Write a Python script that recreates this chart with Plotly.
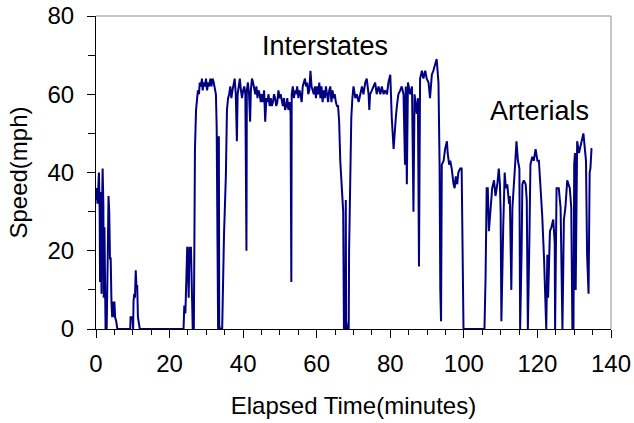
import plotly.graph_objects as go

# ---- Data (elapsed minutes, speed mph) ----
# Start of trip: urban streets, stop-and-go
start_time = [0.0, 0.2, 0.4, 0.6, 0.8, 1.0, 1.1, 1.2, 1.4, 1.5, 1.6, 1.8, 2.0, 2.1, 2.3, 2.5, 2.6, 2.9,
              3.0, 3.2, 3.4, 3.6, 3.8, 4.0, 4.2, 4.4, 4.6, 4.8, 5.0, 5.2, 5.5, 5.8,
              9.3, 9.4, 9.9, 10.1, 10.2, 10.4, 10.6, 10.8, 11.0, 11.2, 11.4, 11.7, 11.9,
              23.8, 24.0, 24.3, 24.5, 24.8, 25.0, 25.2, 25.4, 25.6, 25.8, 26.0, 26.2, 26.3, 26.6]
start_speed = [33, 36, 32, 38, 40, 30, 12, 35, 22, 9, 28, 41, 32, 8, 26, 10, 0, 0,
               17, 19, 34, 30, 18, 18, 7, 3, 7, 3, 7, 3, 2, 0,
               0, 3, 3, 0, 7, 9, 8, 15, 11, 11, 3, 1, 0,
               0, 6, 4, 10, 21, 16, 8, 21, 17, 21, 14, 10, 0, 0]

# Interstate portion
interstate_time = [26.7, 26.9, 27.2, 27.4, 27.7, 28.0, 28.2, 28.5, 28.8, 29.0, 29.3, 29.6, 29.9, 30.2,
                   30.5, 30.8, 31.1, 31.4, 31.7, 32.0, 32.3, 32.6, 32.8, 33.0, 33.2, 33.3, 33.4, 33.5,
                   33.7, 34.3, 34.5, 34.8, 35.3, 35.6, 35.9, 36.2, 36.5, 36.8, 37.1, 37.4, 37.7, 38.0,
                   38.3, 38.5, 38.8, 39.1, 39.4, 39.7, 40.0, 40.3, 40.6, 40.8, 40.9, 41.0, 41.3, 41.6,
                   41.9, 42.1, 42.4, 42.7, 43.0, 43.3, 43.6, 43.9, 44.2, 44.5, 44.8, 45.1, 45.4, 45.7,
                   46.0, 46.3, 46.6, 46.9, 47.2, 47.5, 47.8, 48.1, 48.4, 48.7, 49.0, 49.3, 49.6, 49.9,
                   50.2, 50.5, 50.8, 51.1, 51.4, 51.7, 52.0, 52.3, 52.6, 52.9, 53.0, 53.1, 53.2, 53.5,
                   53.8, 54.1, 54.4, 54.7, 55.0, 55.3, 55.6, 55.9, 56.2, 56.5, 56.8, 57.1, 57.4, 57.7,
                   58.0, 58.3, 58.6, 58.9, 59.2, 59.5, 59.8, 60.1, 60.4, 60.7, 61.0, 61.3, 61.6, 61.9,
                   62.2, 62.5, 62.8, 63.1, 63.4, 63.7, 64.0, 64.3, 64.6, 64.9, 65.2, 65.5, 65.8, 66.1,
                   66.4, 66.7, 67.0, 67.2, 67.4, 67.8, 67.9, 68.0, 68.3, 68.7, 68.8, 69.4, 69.7, 70.0,
                   70.5, 70.9, 71.4, 71.8, 72.3, 72.7, 73.2, 73.6, 74.1, 74.3, 74.5, 75.0, 75.4, 75.9,
                   76.3, 76.8, 77.3, 77.7, 78.2, 78.6, 79.1, 79.5, 80.0, 80.2, 80.4, 80.9, 81.1, 81.5,
                   81.8, 82.2, 82.7, 83.1, 83.6, 84.0, 84.2, 84.5, 84.8, 85.4, 85.9, 86.3, 86.6, 87.2,
                   87.5, 87.8, 88.1, 88.6, 89.0, 89.5, 89.9, 90.4, 90.8, 91.3, 91.7, 92.2, 92.6, 93.1,
                   93.4, 93.6, 93.8, 94.0, 94.5, 94.9, 95.4, 95.6, 96.0, 96.3, 96.7, 97.2, 97.5, 97.8,
                   98.2, 98.5, 99.0, 99.4, 99.6, 99.9]
interstate_speed = [37, 46, 56, 58, 61, 60, 63, 62, 64, 61, 63, 62, 64, 61,
                    63, 62, 64, 62, 64, 63, 61, 60, 52, 2, 0, 49, 49, 1,
                    0, 0, 16, 24, 39, 56, 59, 60, 62, 59, 61, 63, 64, 60,
                    48, 60, 62, 64, 61, 59, 61, 62, 60, 20, 20, 61, 63, 60,
                    53, 61, 64, 63, 61, 60, 62, 59, 61, 60, 58, 60, 58, 61,
                    53, 59, 58, 60, 57, 59, 57, 58, 60, 59, 57, 58, 61, 59,
                    60, 58, 57, 59, 56, 57, 59, 56, 58, 55, 12, 12, 60, 62,
                    59, 61, 60, 62, 59, 61, 60, 58, 62, 63, 64, 62, 63, 60,
                    61, 66, 62, 61, 60, 62, 59, 62, 60, 63, 59, 62, 58, 61,
                    59, 62, 60, 58, 61, 62, 58, 61, 59, 60, 58, 57, 57, 53,
                    43, 38, 34, 30, 0, 0, 33, 2, 0, 0, 20, 54, 59, 62,
                    59, 60, 58, 60, 62, 60, 63, 64, 60, 56, 60, 61, 62, 63,
                    60, 62, 60, 62, 60, 61, 60, 63, 65, 56, 54, 46, 50, 54,
                    57, 60, 61, 62, 60, 42, 62, 37, 63, 60, 62, 30, 60, 55,
                    59, 16, 64, 66, 64, 66, 64, 63, 59, 65, 66, 68, 69, 63,
                    42, 10, 2, 42, 43, 46, 48, 45, 42, 43, 41, 37, 36, 39,
                    37, 40, 41, 41, 20, 0]

# Arterial portion
arterial_time = [105.6, 105.9, 106.2, 106.5, 106.8, 107.3, 107.7, 108.2, 108.6, 109.1, 109.5, 109.8,
                 110.0, 110.2, 110.4, 110.7, 111.1, 111.4, 111.8, 112.3, 112.5, 112.9, 113.2, 113.6,
                 114.0, 114.3, 114.7, 115.1, 115.3, 115.7, 115.9, 116.3, 116.8, 117.1, 117.4, 117.8,
                 118.1, 118.6, 119.0, 119.5, 120.0, 120.4, 120.9, 121.3, 121.8, 122.0, 122.4, 122.7,
                 122.9, 123.4, 123.8, 124.3, 124.7, 124.8, 125.2, 125.8, 126.3, 126.8, 127.2, 127.6,
                 128.1, 128.8, 129.2, 129.5, 129.8, 130.0, 130.2, 130.4, 130.6, 130.8, 131.3, 131.9,
                 132.5, 132.8, 133.2, 133.5, 133.9, 134.2, 134.4, 134.7, 134.9]
arterial_speed = [0, 13, 36, 36, 25, 31, 36, 38, 34, 37, 41, 37,
                  30, 2, 13, 26, 40, 36, 37, 32, 34, 10, 31, 36,
                  43, 48, 43, 41, 0, 20, 37, 38, 37, 33, 0, 22,
                  42, 44, 43, 46, 43, 43, 36, 29, 18, 11, 0, 19,
                  8, 25, 26, 28, 22, 0, 36, 36, 31, 0, 28, 31,
                  38, 36, 31, 0, 0, 42, 45, 10, 44, 48, 45, 48,
                  50, 47, 43, 19, 9, 40, 41, 46, 46]

elapsed_min = start_time + interstate_time + arterial_time
speed_mph = start_speed + interstate_speed + arterial_speed

x_ticks = [0, 20, 40, 60, 80, 100, 120, 140]
y_ticks = [0, 20, 40, 60, 80]
labels = {"Interstates": (62.2, 72.3), "Arterials": (120.5, 55.8)}

FONT = "Arial, 'Liberation Sans', sans-serif"

fig = go.Figure()
fig.add_trace(go.Scatter(
    x=elapsed_min, y=speed_mph, mode="lines",
    line=dict(color="#000080", width=2),
    showlegend=False, hoverinfo="x+y",
))

for txt, (tx, ty) in labels.items():
    fig.add_annotation(x=tx, y=ty, xref="x", yref="y", text=txt, showarrow=False,
                       font=dict(family=FONT, size=27, color="black"),
                       xanchor="center", yanchor="middle")

# Grey plot-area border on top and right (Excel style)
fig.add_shape(type="line", xref="paper", yref="paper", x0=0, x1=1, y0=1, y1=1,
              line=dict(color="#8c8c8c", width=1))
fig.add_shape(type="line", xref="paper", yref="paper", x0=1, x1=1, y0=0, y1=1,
              line=dict(color="#8c8c8c", width=1))

fig.update_layout(
    width=634, height=423,
    margin=dict(l=96, r=23, t=16, b=94, autoexpand=False),
    paper_bgcolor="white", plot_bgcolor="white",
    font=dict(family=FONT, size=24, color="black"),
    xaxis=dict(
        range=[0, 140], tickvals=x_ticks, ticktext=[str(v) for v in x_ticks],
        showgrid=False, zeroline=False, showline=True, linecolor="black", linewidth=1,
        ticks="outside", ticklen=8, tickwidth=1, tickcolor="black",
        minor=dict(dtick=5, ticks="outside", ticklen=5, tickwidth=1, tickcolor="black"),
        tickfont=dict(family=FONT, size=24, color="black"),
        ticklabelstandoff=5, ticklabeloverflow="allow",
        title=dict(text="Elapsed Time(minutes)", font=dict(family=FONT, size=24, color="black"),
                   standoff=21),
        automargin=False,
    ),
    yaxis=dict(
        range=[0, 80], tickvals=y_ticks, ticktext=[str(v) for v in y_ticks],
        showgrid=False, zeroline=False, showline=True, linecolor="black", linewidth=1,
        ticks="outside", ticklen=8, tickwidth=1, tickcolor="black",
        minor=dict(dtick=10, ticks="outside", ticklen=7, tickwidth=1, tickcolor="black"),
        tickfont=dict(family=FONT, size=24, color="black"),
        ticklabelstandoff=8, ticklabeloverflow="allow",
        title=dict(text="Speed(mph)", font=dict(family=FONT, size=24, color="black"),
                   standoff=13),
        automargin=False,
    ),
)

# Remove the browser's default 8px body margin so the figure fills the window exactly.
fig.write_html("out.html",
               config={"displayModeBar": False},
               post_script="document.body.style.margin='0';document.body.style.overflow='hidden';")
